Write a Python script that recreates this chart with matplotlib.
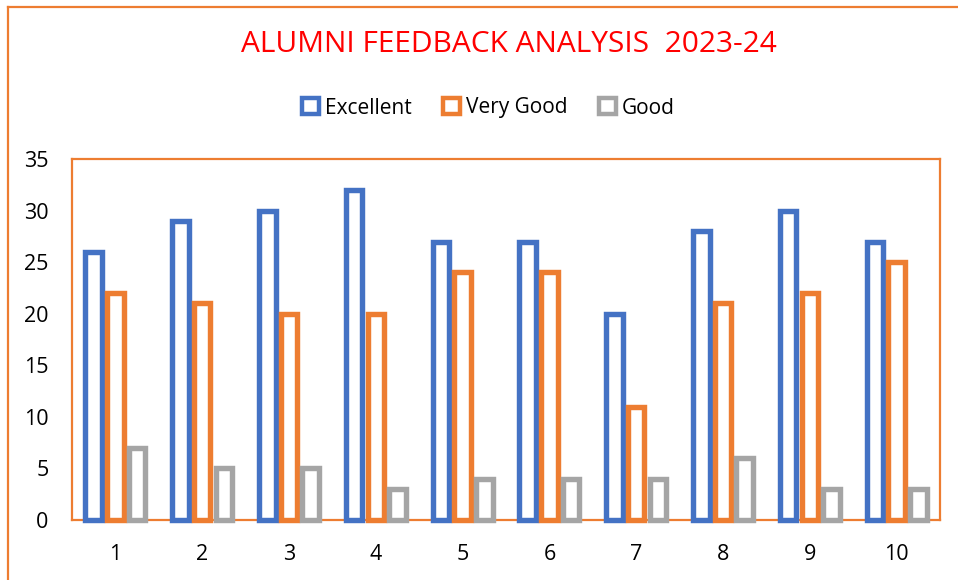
import numpy as np
import matplotlib
matplotlib.use("Agg")
import matplotlib.pyplot as plt
from matplotlib.patches import Patch
from matplotlib.lines import Line2D

categories = [str(i) for i in range(1, 11)]
excellent = [26, 29, 30, 32, 27, 27, 20, 28, 30, 27]
very_good = [22, 21, 20, 20, 24, 24, 11, 21, 22, 25]
good = [7, 5, 5, 3, 4, 4, 4, 6, 3, 3]
series_names = ["Excellent", "Very Good", "Good"]
colors = ["#4472C4", "#ED7D31", "#A5A5A5"]
yticks = [0, 5, 10, 15, 20, 25, 30, 35]

plt.rcParams['font.family'] = ['Open Sans', 'DejaVu Sans']

fig = plt.figure(figsize=(9.58, 5.8), dpi=100)
ax = fig.add_axes([72/958, 1-520/580, (940-72)/958, (520-159)/580])

x = np.arange(len(categories))
w = 0.19
off = 0.25
for i, (vals, c) in enumerate(zip([excellent, very_good, good], colors)):
    bars = ax.bar(x + (i-1)*off, vals, width=w, facecolor='white', edgecolor=c,
                  linewidth=3.9, zorder=3)
    for b in bars:
        b.set_clip_on(False)

ax.set_xlim(-0.5, len(categories)-0.5)
ax.set_ylim(0, 35)
ax.set_yticks(yticks)
ax.set_xticks(x)
ax.set_xticklabels(categories)
ax.tick_params(axis='both', length=0, labelsize=15.5, colors='black')
ax.tick_params(axis='y', pad=17)
ax.tick_params(axis='x', pad=17)
for s in ax.spines.values():
    s.set_color('#ED7D31')
    s.set_linewidth(1.6)

fig.text(0.531, 1-44/580, "ALUMNI FEEDBACK ANALYSIS  2023-24", color='#FF0000',
         fontsize=21.5, ha='center', va='center')

handles = [Patch(facecolor='white', edgecolor=c, linewidth=3.2) for c in colors]
fig.legend(handles, series_names, loc='center', bbox_to_anchor=(0.510, 1-108/580),
           ncol=3, frameon=False, fontsize=15, handlelength=0.8, handleheight=0.8,
           handletextpad=0.3, columnspacing=1.5)

fig.add_artist(Line2D([7.5/958, 7.5/958], [0, 1-7/580], transform=fig.transFigure,
                      color='#ED7D31', linewidth=1.6))
fig.add_artist(Line2D([7.5/958, 1], [1-7/580, 1-7/580], transform=fig.transFigure,
                      color='#ED7D31', linewidth=1.6))

fig.savefig("out.png", dpi=100)
